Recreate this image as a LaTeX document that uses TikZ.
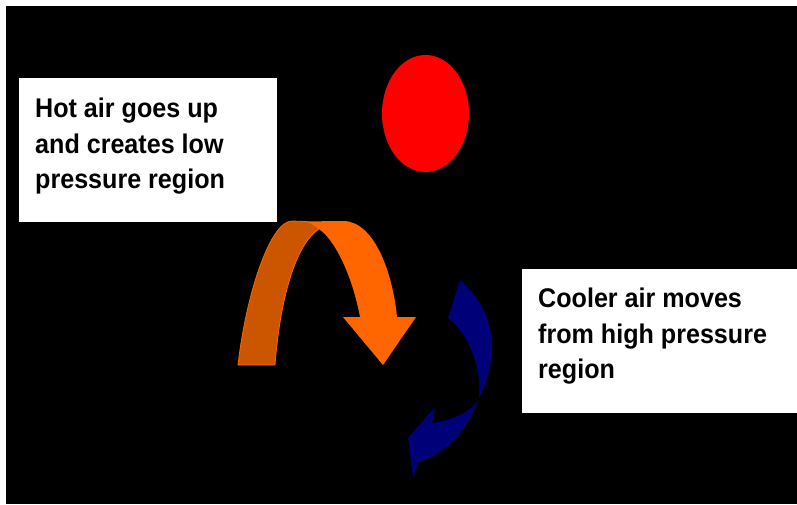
\documentclass[tikz,border=0pt]{standalone}
\usepackage{fontspec}
\usetikzlibrary{shapes.geometric}
\setmainfont{Liberation Sans}[BoldFont={* Bold}, FakeStretch=0.93]
\tikzset{
  txt/.style={inner sep=0pt, align=left, anchor=north west, font=\bfseries\fontsize{27}{35.5}\selectfont},
  whitebox/.style={fill=white, draw=none, inner sep=0pt, anchor=north west},
}
\definecolor{orlight}{RGB}{255,102,0}
\definecolor{ordark}{RGB}{204,85,0}
\definecolor{navyb}{RGB}{0,0,120}
\begin{document}
\begin{tikzpicture}[x=1pt,y=-1pt]
\useasboundingbox (0,0) rectangle (797,504);
\fill[white] (0,0) rectangle (797,504);
\fill[black] (6,6) rectangle (797,504);
% sun
\node[ellipse, fill=red, minimum width=87pt, minimum height=117pt, inner sep=0pt] (sun) at (425.5,113.5) {};
% text boxes
\node[whitebox, minimum width=258pt, minimum height=144pt] (b1) at (19,78) {};
\node[txt] (t1) at (35,98) {Hot air goes up\\and creates low\\pressure region};
\node[whitebox, minimum width=275pt, minimum height=144pt] (b2) at (522,269) {};
\node[txt] (t2) at (538,288) {Cooler air moves\\from high pressure\\region};
% orange curved arrow: light band
\fill[orlight] (300,221.5) -- (343,221) .. controls (375,221) and (393,275) .. (397,317)
  -- (416,317) -- (383,365) -- (343,317) -- (360,317)
  .. controls (352,275) and (335,240) .. (319,229) -- cycle;
% dark band
\filldraw[fill=ordark, draw=orlight, line width=0.8pt]
  (238,365) .. controls (246,295) and (270,221) .. (292,221)
  -- (305,221.5) .. controls (311,222) and (316,226) .. (319,229)
  .. controls (295,245) and (280,300) .. (275,365) -- cycle;
% blue twisted arrow
\fill[navyb] (460,280) .. controls (478,295) and (492,320) .. (492,345)
  .. controls (492,365) and (486,385) .. (479,398)
  .. controls (468,430) and (445,455) .. (418,462)
  -- (413,478) -- (408,438) -- (435,407) -- (432,423)
  .. controls (455,420) and (474,410) .. (479,398)
  .. controls (482,370) and (470,335) .. (448,318) -- cycle;
\end{tikzpicture}
\end{document}
